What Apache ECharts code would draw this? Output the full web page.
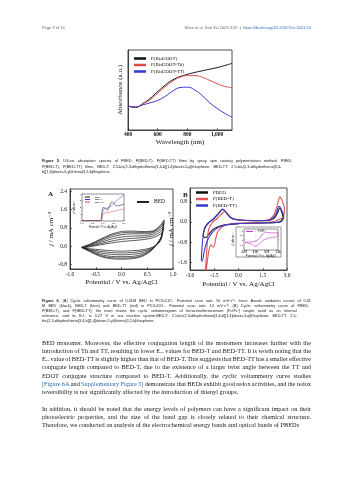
<!DOCTYPE html>
<html><head><meta charset="utf-8">
<script src="https://cdn.jsdelivr.net/npm/echarts@6/dist/echarts.min.js"></script>
<style>html,body{margin:0;padding:0;background:#fff}#c{width:353px;height:480px}</style>
</head><body><div id="c"></div>
<script>
// ---------- Figure 5: UV-vis ----------
const uvWavelength = [400, 450, 500, 550, 600, 650, 700, 750, 800, 850, 900, 950, 1000, 1050, 1100];
const uvBisEDOT    = [30, 28.3, 33, 39.6, 48, 56, 62.5, 66.7, 69.6, 72, 74, 76, 78, 80.5, 83.3];
const uvBisEDOTTh  = [30, 28.5, 33, 38, 46, 54, 61, 66, 68, 68, 66, 62, 58, 54.5, 53];
const uvBisEDOTTT  = [30, 28.8, 31.5, 34, 37, 42, 48.5, 53, 53.5, 50, 43, 34, 27, 21, 16];
const uvXTicks = [400, 600, 800, 1000];

// ---------- Figure 6A: multi-cycle CV of BED (potential V, current mA cm-2) ----------
const cvA1 = [[-0.75,-0.08],[-0.6,-0.02],[-0.4,0.06],[-0.2,0.14],[0,0.2],[0.2,0.24],[0.4,0.28],[0.6,0.36],[0.75,0.52],[0.8,0.62],[0.75,0.2],[0.6,-0.05],[0.4,-0.16],[0.2,-0.2],[0,-0.22],[-0.2,-0.2],[-0.4,-0.16],[-0.6,-0.12],[-0.75,-0.08]];
const cvA2 = [[-0.75,-0.07],[-0.6,0.0],[-0.4,0.11],[-0.2,0.22],[0,0.3],[0.2,0.34],[0.4,0.37],[0.6,0.44],[0.75,0.62],[0.8,0.74],[0.75,0.26],[0.6,-0.07],[0.4,-0.22],[0.2,-0.28],[0,-0.3],[-0.2,-0.28],[-0.4,-0.23],[-0.6,-0.15],[-0.75,-0.07]];
const cvA3 = [[-0.76,-0.06],[-0.6,0.03],[-0.4,0.17],[-0.2,0.31],[0,0.4],[0.2,0.44],[0.4,0.45],[0.6,0.52],[0.75,0.72],[0.81,0.86],[0.76,0.32],[0.6,-0.09],[0.4,-0.29],[0.2,-0.36],[0,-0.38],[-0.2,-0.36],[-0.4,-0.3],[-0.6,-0.18],[-0.76,-0.06]];
const cvA4 = [[-0.76,-0.06],[-0.6,0.06],[-0.4,0.23],[-0.2,0.4],[0,0.5],[0.2,0.54],[0.4,0.54],[0.6,0.59],[0.75,0.8],[0.81,0.98],[0.77,0.38],[0.6,-0.12],[0.4,-0.36],[0.2,-0.45],[0,-0.46],[-0.2,-0.45],[-0.4,-0.37],[-0.6,-0.21],[-0.76,-0.06]];
const cvA5 = [[-0.77,-0.05],[-0.6,0.08],[-0.4,0.28],[-0.2,0.47],[0,0.58],[0.2,0.61],[0.4,0.6],[0.6,0.63],[0.75,0.86],[0.82,1.07],[0.78,0.42],[0.6,-0.14],[0.4,-0.41],[0.2,-0.51],[0,-0.52],[-0.2,-0.51],[-0.4,-0.42],[-0.6,-0.23],[-0.77,-0.05]];
const cvA6 = [[-0.78,-0.05],[-0.6,0.1],[-0.4,0.32],[-0.2,0.52],[0,0.64],[0.2,0.66],[0.4,0.64],[0.6,0.66],[0.75,0.9],[0.83,1.15],[0.78,0.45],[0.6,-0.15],[0.4,-0.45],[0.2,-0.55],[0,-0.57],[-0.2,-0.55],[-0.4,-0.46],[-0.6,-0.26],[-0.78,-0.05]];
const cvAXTicks = [-1.0, -0.5, 0.0, 0.5, 1.0];
const cvAYTicks = [-0.8, 0.0, 0.8, 1.6, 2.4];

// inset A: anodic oxidation curves
const insAPot  = [0.0, 0.4, 0.8, 0.9, 0.95, 1.0, 1.1, 1.2, 1.3, 1.44, 1.55, 1.63, 1.8, 2.0];
const insABED  = [0.05, 0.05, 0.06, 0.1, 1.4, 2.0, 1.9, 1.6, 2.2, 2.86, 2.5, 2.24, 2.3, 2.5];
const insABEDT = [0.05, 0.05, 0.06, 0.08, 0.5, 1.6, 1.9, 1.9, 2.0, 2.3, 2.7, 3.0, 3.4, 3.9];
const insABEDTT= [0.05, 0.05, 0.06, 0.08, 0.3, 1.1, 1.2, 1.25, 1.3, 1.4, 1.5, 1.55, 1.65, 1.8];

// ---------- Figure 6B: CV of polymer films ----------
const cvPBED = [[-2.2,-0.55],[-2.1,-0.25],[-1.9,-0.05],[-1.6,0.1],[-1.3,0.3],[-1.1,0.45],[-0.95,0.5],[-0.8,0.4],[-0.5,0.18],[-0.2,0.1],[0.5,0.06],[1.2,0.05],[1.8,0.06],[2.2,0.15],[2.4,0.35],[2.55,0.55],[2.65,0.45],[2.75,0.2],[2.6,0.02],[2.2,-0.03],[1.5,-0.04],[0.5,-0.05],[-0.3,-0.08],[-0.9,-0.12],[-1.3,-0.2],[-1.6,-0.3],[-1.85,-0.5],[-2.05,-0.62],[-2.2,-0.55]];
const cvPBEDT = [[-2.05,-1.95],[-1.95,-1.0],[-1.85,-0.3],[-1.6,0.0],[-1.3,0.15],[-1.0,0.35],[-0.85,0.42],[-0.7,0.35],[-0.4,0.15],[0,0.08],[1.0,0.05],[1.8,0.08],[2.2,0.3],[2.45,0.8],[2.55,1.0],[2.7,0.85],[2.85,0.5],[2.75,0.2],[2.5,0.1],[2.2,0.02],[1.5,-0.02],[0.5,-0.04],[-0.4,-0.06],[-0.9,-0.15],[-1.3,-0.4],[-1.55,-1.0],[-1.7,-0.9],[-1.85,-1.2],[-2.0,-1.9],[-2.05,-1.95]];
const cvPBEDTT = [[-2.3,-1.5],[-2.2,-0.6],[-2.05,-0.2],[-1.8,0.0],[-1.5,0.15],[-1.2,0.35],[-1.0,0.52],[-0.85,0.45],[-0.6,0.25],[-0.3,0.12],[0.5,0.07],[1.5,0.06],[2.0,0.1],[2.3,0.3],[2.5,0.62],[2.65,0.5],[2.8,0.2],[2.6,0.0],[2.0,-0.02],[1.0,-0.04],[0,-0.06],[-0.7,-0.1],[-1.2,-0.2],[-1.6,-0.4],[-1.9,-0.7],[-2.1,-1.1],[-2.25,-1.55],[-2.3,-1.5]];
const cvBXTicks = [-3.0, -1.5, 0.0, 1.5, 3.0];
const cvBYTicks = [-1.6, -0.8, 0.0, 0.8];

// inset B: ferrocene
const fcLoop = [[-0.7,-0.2],[-0.3,-0.15],[0,-0.1],[0.2,0.1],[0.4,0.5],[0.6,0.8],[0.75,0.85],[1.0,0.82],[1.3,0.8],[1.5,0.82],[1.5,0.45],[1.3,0.35],[1.0,0.3],[0.75,0.2],[0.5,0.0],[0.3,-0.3],[0.1,-0.6],[0.0,-0.65],[-0.2,-0.4],[-0.5,-0.28],[-0.7,-0.2]];
const fcXTicks = [-0.75, 0.0, 0.75, 1.5];

// ---------- text ----------
const headerLeft = 'Page 8 of 14';
const headerRight = 'Shen et al. Soft Sci 2023;3:20  |  {u|https://dx.doi.org/10.20517/ss.2023.10}';
const fig5Caption = [
 '{b|Figure} {b|5.} UV-vis absorption spectra of PBED, P(BED-T), P(BED-TT) films by spray spin coating polymerization method. PBED,',
 'P(BED-T), P(BED-TT) films. BED-T: 2,5-bis(2,3-dihydrothieno[3,4-b][1,4]dioxin-5-yl)thiophene; BED-TT: 2,5-bis(2,3-dihydrothieno[3,4-',
 'b][1,4]dioxin-5-yl)thieno[3,2-b]thiophene.'
];
const fig6Caption = [
 '{b|Figure} {b|6.} (A) Cyclic voltammetry curve of 0.01M BED in PC/LiClO₄. Potential scan rate: 50 mV·s⁻¹. Inset: Anodic oxidation curves of 0.01',
 'M BED (black), BED-T (blue) and BED-TT (red) in PC/LiClO₄. Potential scan rate: 10 mV·s⁻¹; (B) Cyclic voltammetry curve of PBED,',
 'P(BED-T), and P(BED-TT); the inset shows the cyclic voltammogram of ferrocene/ferrocenium (Fc/Fc⁺) couple used as an internal',
 'reference, and its E₁/₂ is 0.27 V in our reaction system.BED-T: 2,5-bis(2,3-dihydrothieno[3,4-b][1,4]dioxin-5-yl)thiophene; BED-TT: 2,5-',
 'bis(2,3-dihydrothieno[3,4-b][1,4]dioxin-5-yl)thieno[3,2-b]thiophene.'
];
const bodyPara1 = [
 'BED monomer. Moreover, the effective conjugation length of the monomers increases further with the',
 'introduction of Th and TT, resulting in lower Eₒₓ values for BED-T and BED-TT. It is worth noting that the',
 'Eₒₓ value of BED-TT is slightly higher than that of BED-T. This suggests that BED-TT has a smaller effective',
 'conjugate length compared to BED-T, due to the existence of a larger twist angle between the TT and',
 'EDOT conjugate structure compared to BED-T. Additionally, the cyclic voltammetry curve studies',
 '{u|[Figure} {u|6A} and {u|Supplementary} {u|Figure} {u|5]} demonstrate that BEDs exhibit good redox activities, and the redox',
 'reversibility is not significantly affected by the introduction of thienyl groups.'
];
const bodyPara2 = [
 'In addition, it should be noted that the energy levels of polymers can have a significant impact on their',
 'photoelectric properties, and the size of the band gap is closely related to their chemical structure.',
 'Therefore, we conducted an analysis of the electrochemical energy bands and optical bands of PBEDs'
];

// ---------- build ----------
const SERIF = '"Liberation Serif","DejaVu Serif",serif';
const SANS = '"Liberation Sans",Arial,sans-serif';
const zip = (xs, ys) => xs.map((x, i) => [x, ys[i]]);
const fmt1 = v => (Math.abs(v) < 1e-9 ? 0 : v).toFixed(1);

function valAxis(o) {
  return Object.assign({
    type: 'value', splitLine: {show: false},
    axisLine: {show: true, onZero: false, lineStyle: {color: '#222', width: 0.8}},
    axisTick: {show: true, inside: true, length: 2, lineStyle: {color: '#222', width: 0.6}},
    axisLabel: {fontFamily: SERIF, fontSize: 5.5, color: '#111', margin: 2},
    nameTextStyle: {fontFamily: SERIF, fontSize: 7, color: '#111'}
  }, o);
}
const yNameText = '{i|j} / mA cm⁻²';

const grids = [
  {left: 128, top: 50, width: 104, height: 80, show: true, borderColor: '#222', borderWidth: 0.8},   // 0 UV
  {left: 70, top: 189, width: 103, height: 80, show: true, borderColor: '#222', borderWidth: 0.8},   // 1 A
  {left: 82, top: 194, width: 42, height: 27, z: 10, show: true, backgroundColor: '#fff', borderColor: '#222', borderWidth: 0.5}, // 2 inset A
  {left: 190, top: 188, width: 97, height: 82, show: true, borderColor: '#222', borderWidth: 0.8},   // 3 B
  {left: 244, top: 229, width: 34, height: 21, z: 10, show: true, backgroundColor: '#fff', borderColor: '#222', borderWidth: 0.5} // 4 inset B
];

const xAxes = [
  valAxis({gridIndex: 0, min: 400, max: 1100, interval: 200, name: 'Wavelength (nm)', nameLocation: 'middle', nameGap: 9,
    axisLabel: {fontFamily: SERIF, fontSize: 5.5, fontWeight: 'bold', color: '#111', margin: 2, customValues: uvXTicks},
    axisTick: {inside: true, length: 2, customValues: uvXTicks, lineStyle: {color: '#222', width: 0.6}}}),
  valAxis({gridIndex: 1, min: -1, max: 1, interval: 0.5, name: 'Potential / V vs. Ag/AgCl', nameLocation: 'middle', nameGap: 10,
    axisLabel: {fontFamily: SERIF, fontSize: 5.5, color: '#111', margin: 3, formatter: fmt1, customValues: cvAXTicks}}),
  valAxis({gridIndex: 2, min: 0, max: 2, interval: 0.5, z: 10, name: 'Potential / V vs. Ag/AgCl', nameLocation: 'middle', nameGap: 5,
    nameTextStyle: {fontFamily: SANS, fontSize: 2.6, color: '#111'},
    axisLine: {show: false}, axisTick: {inside: true, length: 1, lineStyle: {width: 0.4, color: '#222'}},
    axisLabel: {fontFamily: SANS, fontSize: 2.4, color: '#111', margin: 1, formatter: fmt1}}),
  valAxis({gridIndex: 3, min: -3, max: 3, interval: 1.5, name: 'Potential / V vs. Ag/AgCl', nameLocation: 'middle', nameGap: 11,
    axisLabel: {fontFamily: SERIF, fontSize: 5.5, color: '#111', margin: 3, formatter: fmt1, customValues: cvBXTicks}}),
  valAxis({gridIndex: 4, min: -0.75, max: 1.5, z: 10, name: 'Potential / V vs. Ag/AgCl', nameLocation: 'middle', nameGap: 5,
    nameTextStyle: {fontFamily: SANS, fontSize: 2.8, color: '#111'},
    axisLine: {show: false}, axisTick: {inside: true, length: 1, customValues: fcXTicks, lineStyle: {width: 0.4, color: '#222'}},
    axisLabel: {fontFamily: SANS, fontSize: 2.6, fontWeight: 'bold', color: '#111', margin: 1, customValues: fcXTicks, formatter: v => v.toFixed(2)}})
];
const yAxes = [
  valAxis({gridIndex: 0, min: 0, max: 100, name: 'Absorbance (a.u.)', nameLocation: 'middle', nameGap: 4, axisLabel: {show: false}, axisTick: {show: false}}),
  valAxis({gridIndex: 1, min: -1.0, max: 2.5, name: yNameText, nameLocation: 'middle', nameGap: 14,
    nameTextStyle: {fontFamily: SERIF, fontSize: 7, color: '#111', rich: {i: {fontFamily: SERIF, fontStyle: 'italic', fontSize: 7}}},
    axisTick: {inside: true, length: 2, customValues: cvAYTicks, lineStyle: {color: '#222', width: 0.6}},
    axisLabel: {fontFamily: SERIF, fontSize: 5.5, color: '#111', margin: 3, formatter: fmt1, customValues: cvAYTicks}}),
  valAxis({gridIndex: 2, min: 0, max: 4, interval: 1, z: 10, name: 'j / mA cm⁻²', nameLocation: 'middle', nameGap: 4,
    nameTextStyle: {fontFamily: SANS, fontSize: 2.6, color: '#111'},
    axisLine: {show: false}, axisTick: {inside: true, length: 1, lineStyle: {width: 0.4, color: '#222'}},
    axisLabel: {fontFamily: SANS, fontSize: 2.4, color: '#111', margin: 1}}),
  valAxis({gridIndex: 3, min: -1.9, max: 1.35, name: yNameText, nameLocation: 'middle', nameGap: 13,
    nameTextStyle: {fontFamily: SERIF, fontSize: 7, color: '#111', rich: {i: {fontFamily: SERIF, fontStyle: 'italic', fontSize: 7}}},
    axisTick: {inside: true, length: 2, customValues: cvBYTicks, lineStyle: {color: '#222', width: 0.6}},
    axisLabel: {fontFamily: SERIF, fontSize: 5.5, color: '#111', margin: 3, formatter: fmt1, customValues: cvBYTicks}}),
  valAxis({gridIndex: 4, min: -1, max: 1.2, z: 10, name: 'j / mA cm⁻²', nameLocation: 'middle', nameGap: 4,
    nameTextStyle: {fontFamily: SANS, fontSize: 2.6, color: '#111'},
    axisLine: {show: false}, axisTick: {inside: true, length: 1, customValues: [-0.5, 0, 0.5, 1], lineStyle: {width: 0.4, color: '#222'}},
    axisLabel: {fontFamily: SANS, fontSize: 2.4, color: '#111', margin: 1, customValues: [-0.5, 0, 0.5, 1]}})
];

const line = (name, xi, data, color, width, z, smooth) => ({
  name, type: 'line', xAxisIndex: xi, yAxisIndex: xi, data, smooth: smooth == null ? 0.3 : smooth, symbol: 'none',
  lineStyle: {color, width}, itemStyle: {color}, z: z || 2, silent: true, animation: false
});

const series = [
  line('P(BisEDOT)', 0, zip(uvWavelength, uvBisEDOT), '#111', 1, 2, 0.5),
  line('P(BisEDOT-Th)', 0, zip(uvWavelength, uvBisEDOTTh), '#e04848', 1, 2, 0.5),
  line('P(BisEDOT-TT)', 0, zip(uvWavelength, uvBisEDOTTT), '#3535d0', 1, 2, 0.5)
];
[cvA1, cvA2, cvA3, cvA4, cvA5, cvA6].forEach((d, i) => {
  series.push(line(i === 0 ? 'BED' : 'BED#' + i, 1, d, '#262626', 0.75));
});
series.push(
  line('BED\u2009', 2, zip(insAPot, insABED), '#111', 0.5, 11),
  line('BED-T', 2, zip(insAPot, insABEDT), '#3535d0', 0.5, 11),
  line('BED-TT', 2, zip(insAPot, insABEDTT), '#e04848', 0.5, 11),
  line('PBED', 3, cvPBED, '#111', 1.1),
  line('P(BED-T)', 3, cvPBEDT, '#e05555', 1.1),
  line('P(BED-TT)', 3, cvPBEDTT, '#3a3acc', 1.1),
  line('Fc/Fc⁺', 4, fcLoop, '#cc33cc', 0.6, 11)
);

const legText = (fs) => ({fontFamily: SERIF, fontSize: fs, color: '#111'});
const legends = [
  {data: ['P(BisEDOT)', 'P(BisEDOT-Th)', 'P(BisEDOT-TT)'], left: 134, top: 56, orient: 'vertical', itemWidth: 12, itemHeight: 2.5, itemGap: 1.5, padding: 0, textStyle: legText(5), selectedMode: false, icon: 'rect'},
  {data: ['BED'], left: 137, top: 199, itemWidth: 12, itemHeight: 2, padding: 0, textStyle: legText(5.5), selectedMode: false, icon: 'rect'},
  {data: ['BED\u2009', 'BED-T', 'BED-TT'], left: 85, top: 196, orient: 'vertical', itemWidth: 5, itemHeight: 1, itemGap: 0.5, padding: 0, textStyle: {fontFamily: SANS, fontSize: 2.4, color: '#111'}, selectedMode: false, icon: 'rect', z: 12},
  {data: ['PBED', 'P(BED-T)', 'P(BED-TT)'], left: 196, top: 190, orient: 'vertical', itemWidth: 12, itemHeight: 2.5, itemGap: 1.5, padding: 0, textStyle: legText(5), selectedMode: false, icon: 'rect'},
  {data: ['Fc/Fc⁺'], left: 246, top: 230, itemWidth: 7, itemHeight: 1, padding: 0, textStyle: {fontFamily: SANS, fontSize: 2.8, color: '#111'}, selectedMode: false, icon: 'rect', z: 12}
];

// ---------- text layout (justified like the typeset page) ----------
const graphic = [];
const LEFT = 42, RIGHT = 311;
const mctx = document.createElement('canvas').getContext('2d');
const parseWords = line => line.split(' ').map(w => {
  const m = w.match(/^\{(b|u)\|(.*)\}$/);
  return m ? {t: m[2], k: m[1]} : {t: w, k: ''};
});
const fontOf = (k, size, family) => (k === 'b' ? 'bold ' : '') + size + 'px ' + family;
function placeLine(line, y, size, family, baseFill, justify) {
  const words = parseWords(line);
  const widths = words.map(w => { mctx.font = fontOf(w.k, size, family); return mctx.measureText(w.t).width; });
  mctx.font = fontOf('', size, family);
  const space = mctx.measureText(' ').width;
  const total = widths.reduce((a, b) => a + b, 0);
  let gap = space;
  if (justify && words.length > 1) gap = Math.min((RIGHT - LEFT - total) / (words.length - 1), space * 3);
  let x = LEFT;
  words.forEach((w, i) => {
    graphic.push({type: 'text', silent: true, z: 20, style: {text: w.t, x, y, font: fontOf(w.k, size, family), textBaseline: 'middle',
      fill: w.k === 'u' ? '#2f6db5' : baseFill}});
    x += widths[i] + gap;
  });
}
function placePara(lines, y0, dy, family, fill, size) {
  lines.forEach((l, i) => placeLine(l, y0 + i * dy, size, family, fill, i < lines.length - 1));
}
const txt = (text, x, y, font, extra) => graphic.push({type: 'text', silent: true, z: 20,
  style: Object.assign({text, x, y, font, fill: '#222', textBaseline: 'middle'}, extra || {})});

txt(headerLeft, LEFT, 26, '4px ' + SANS, {fill: '#666'});
txt(headerRight, RIGHT, 26, '4px ' + SANS, {fill: '#666', align: 'right', rich: {u: {fill: '#2f6db5', fontFamily: SANS, fontSize: 4}}});
placePara(fig5Caption, 159, 5.5, SANS, '#222', 3.85);
placePara(fig6Caption, 299, 5, SANS, '#222', 3.85);
placePara(bodyPara1, 340, 8.25, SERIF, '#1a1a1a', 6.3);
placePara(bodyPara2, 406, 8.25, SERIF, '#1a1a1a', 6.3);
txt('A', 48, 191, 'bold 7px ' + SERIF, {fill: '#111'});
txt('B', 183, 192, 'bold 7px ' + SERIF, {fill: '#111'});
// white panels behind insets
graphic.push({type: 'rect', silent: true, z: 4, shape: {x: 74, y: 192, width: 53, height: 37}, style: {fill: '#fff'}});
graphic.push({type: 'rect', silent: true, z: 4, shape: {x: 236, y: 227, width: 45, height: 30}, style: {fill: '#fff', stroke: '#333', lineWidth: 0.5}});

const chart = echarts.init(document.getElementById('c'), null, {renderer: 'canvas'});
chart.setOption({
  animation: false, backgroundColor: '#fff',
  grid: grids, xAxis: xAxes, yAxis: yAxes, series, legend: legends, graphic
});
</script></body></html>
